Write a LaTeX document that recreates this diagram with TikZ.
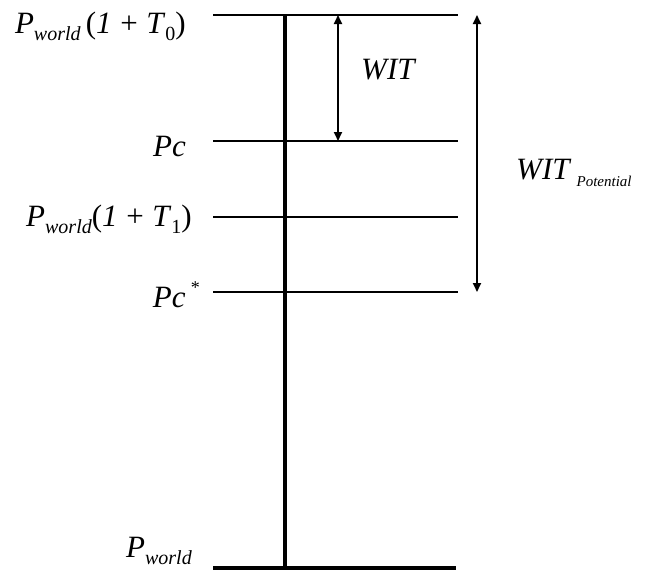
\documentclass[tikz,border=0pt]{standalone}
\usepackage{fontspec}
\setmainfont{Liberation Serif}
\usetikzlibrary{arrows.meta,positioning}
\newcommand{\lo}[2][20]{\raisebox{-0.25em}{\fontsize{#1}{#1}\selectfont #2}}

\begin{document}
\begin{tikzpicture}[x=1pt, y=-1pt,
  level/.style={line width=1.8pt},
  axis/.style={line width=3.2pt},
  span/.style={{Triangle[length=9pt,width=8pt]}-{Triangle[length=9pt,width=8pt]}, line width=1.8pt},
  lbl/.style={font=\fontsize{31}{36}\selectfont, anchor=base east, inner sep=0pt}
]
  \useasboundingbox (0,0) rectangle (649,574);
  % level lines
  \coordinate (t0l) at (213,15);  \coordinate (t0r) at (458,15);
  \coordinate (pcl) at (213,141); \coordinate (pcr) at (458,141);
  \coordinate (t1l) at (213,217); \coordinate (t1r) at (458,217);
  \coordinate (psl) at (213,292); \coordinate (psr) at (458,292);
  \coordinate (pwl) at (213,568); \coordinate (pwr) at (456,568);
  \coordinate (axtop) at (285,15); \coordinate (axbot) at (285,569);
  \draw[level] (t0l) -- (t0r);
  \draw[level] (pcl) -- (pcr);
  \draw[level] (t1l) -- (t1r);
  \draw[level] (psl) -- (psr);
  \draw[axis] (pwl) -- (pwr);
  \draw[axis] (axtop) -- (axbot);
  % spans
  \coordinate (witA) at (338,15);  \coordinate (witB) at (338,141);
  \coordinate (potA) at (477,15);  \coordinate (potB) at (477,292);
  \draw[span] (witA) -- (witB);
  \draw[span] (potA) -- (potB);
  % labels
  \node[lbl] (lt0) at (186,33) {\textit{P}\lo{\textit{world}}\,(\textit{1}\;+\;\textit{T}\lo{0})};
  \node[lbl] (lpc) at (186,156) {\textit{Pc}};
  \node[lbl] (lt1) at (192,226) {\textit{P}\lo{\textit{world}}(\textit{1}\;+\;\textit{T}\lo{1})};
  \node[lbl] (lps) at (200,307) {\textit{Pc}\,\raisebox{0.45em}{\fontsize{18}{18}\selectfont *}};
  \node[lbl] (lpw) at (192,557) {\textit{P}\lo{\textit{world}}};
  \node[lbl, anchor=base west] (lwit) at (361,79) {\textit{WIT}};
  \node[lbl, anchor=base west] (lpot) at (516,179) {\textit{WIT}\,\lo[15]{\textit{Potential}}};
\end{tikzpicture}
\end{document}
